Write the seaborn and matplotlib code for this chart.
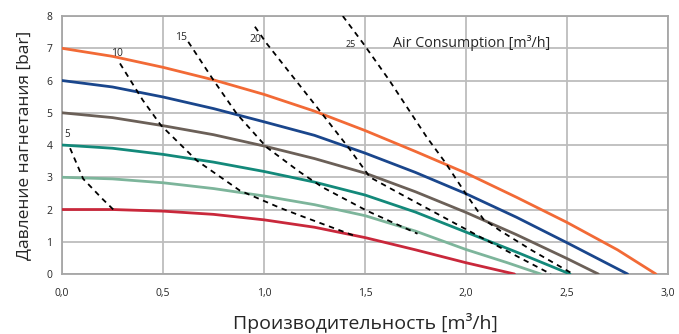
import matplotlib
matplotlib.use("Agg")
import matplotlib.pyplot as plt
import pandas as pd
import seaborn as sns

# pump curves: flow [m3/h] -> discharge pressure [bar], one per inlet air pressure
flow_2 = [0, 0.25, 0.5, 0.75, 1.0, 1.25, 1.5, 1.75, 2.0, 2.24]
pres_2 = [2.0, 2.0, 1.95, 1.85, 1.68, 1.45, 1.13, 0.75, 0.35, 0]
flow_3 = [0, 0.25, 0.5, 0.75, 1.0, 1.25, 1.5, 1.75, 2.0, 2.2, 2.37]
pres_3 = [3.0, 2.95, 2.83, 2.65, 2.42, 2.15, 1.81, 1.33, 0.76, 0.36, 0]
flow_4 = [0, 0.25, 0.5, 0.75, 1.0, 1.25, 1.5, 1.75, 2.0, 2.25, 2.515]
pres_4 = [4.0, 3.9, 3.71, 3.47, 3.18, 2.85, 2.45, 1.92, 1.3, 0.68, 0]
flow_5 = [0, 0.25, 0.5, 0.75, 1.0, 1.25, 1.5, 1.75, 2.0, 2.25, 2.5, 2.655]
pres_5 = [5.0, 4.85, 4.6, 4.32, 3.97, 3.58, 3.13, 2.55, 1.91, 1.22, 0.48, 0]
flow_6 = [0, 0.25, 0.5, 0.75, 1.0, 1.25, 1.5, 1.75, 2.0, 2.25, 2.5, 2.8]
pres_6 = [6.0, 5.8, 5.49, 5.13, 4.72, 4.3, 3.75, 3.15, 2.49, 1.76, 0.97, 0]
flow_7 = [0, 0.25, 0.5, 0.75, 1.0, 1.25, 1.5, 1.75, 2.0, 2.25, 2.5, 2.75, 2.94]
pres_7 = [7.0, 6.75, 6.41, 6.02, 5.57, 5.05, 4.45, 3.8, 3.13, 2.38, 1.6, 0.75, 0]

# air consumption lines [m3/h]
air_labels = ["5", "10", "15", "20", "25"]
air_flow = [
    [0.04, 0.105, 0.2, 0.254],
    [0.287, 0.40, 0.49, 0.667, 0.88, 1.08, 1.18, 1.45],
    [0.625, 0.75, 0.865, 1.013, 1.178, 1.29, 1.51, 1.76],
    [0.955, 1.013, 1.29, 1.417, 1.525, 1.7, 2.07, 2.42],
    [1.39, 1.49, 1.62, 1.805, 1.896, 2.0, 2.086, 2.17, 2.33, 2.53],
]
air_pres = [
    [3.9, 2.95, 2.33, 2.0],
    [6.53, 5.39, 4.61, 3.52, 2.59, 2.05, 1.81, 1.18],
    [7.2, 6.01, 4.97, 3.93, 3.16, 2.69, 1.96, 1.25],
    [7.67, 7.15, 4.95, 3.93, 3.0, 2.4, 1.15, 0.0],
    [8.0, 7.16, 6.01, 4.25, 3.47, 2.48, 1.70, 1.34, 0.72, 0.0],
]

curve_colors = {
    "2": "#c9283b",
    "3": "#7db59b",
    "4": "#13897a",
    "5": "#6b6058",
    "6": "#1a468c",
    "7": "#f26a36",
}

sns.set_style("white")
plt.rcParams["font.family"] = ["Open Sans", "DejaVu Sans"]

frames = []
for name, fx, py in [("2", flow_2, pres_2), ("3", flow_3, pres_3), ("4", flow_4, pres_4),
                     ("5", flow_5, pres_5), ("6", flow_6, pres_6), ("7", flow_7, pres_7)]:
    frames.append(pd.DataFrame({"flow": fx, "pressure": py, "air": name}))
df = pd.concat(frames, ignore_index=True)

fig = plt.figure(figsize=(6.79, 3.34), dpi=100)
ax = fig.add_axes([0.0913, 0.1796, 0.8925, 0.7724])

sns.lineplot(data=df, x="flow", y="pressure", hue="air", palette=curve_colors,
             sort=False, linewidth=2, legend=False, ax=ax, zorder=3)

for fx, py in zip(air_flow, air_pres):
    sns.lineplot(x=fx, y=py, sort=False, color="black", linewidth=1.3,
                 linestyle=(0, (3, 2.6)), ax=ax, zorder=4)

label_pos = [(0.025, 4.33, 7), (0.27, 6.85, 7.5), (0.59, 7.32, 7.5), (0.955, 7.26, 7.5), (1.43, 7.13, 6.5)]
for lab, (lx, ly, fs) in zip(air_labels, label_pos):
    ax.text(lx, ly, lab, fontsize=fs, ha="center", va="center", zorder=5)
ax.text(1.64, 7.15, "Air Consumption [m³/h]", fontsize=10.3, ha="left", va="center")

ax.set_xlim(0, 3.0)
ax.set_ylim(0, 8)
ax.set_xticks([0, 0.5, 1.0, 1.5, 2.0, 2.5, 3.0])
ax.set_xticklabels(["0,0", "0,5", "1,0", "1,5", "2,0", "2,5", "3,0"])
ax.set_yticks(range(0, 9))
ax.grid(True, color="#bdbdbd", linewidth=1.3, zorder=0)
ax.set_axisbelow(True)
for side in ["left", "bottom", "right", "top"]:
    ax.spines[side].set_color("#a6a6a6")
    ax.spines[side].set_linewidth(1.3)
ax.tick_params(axis="both", length=4, width=1, color="#a6a6a6", labelsize=7.5, pad=3)
ax.tick_params(axis="x", pad=6)

ax.set_xlabel("Производительность [m³/h]", fontsize=14, labelpad=10)
ax.set_ylabel("Давление нагнетания [bar]", fontsize=12.5, labelpad=10)

fig.savefig("out.png", dpi=100)
